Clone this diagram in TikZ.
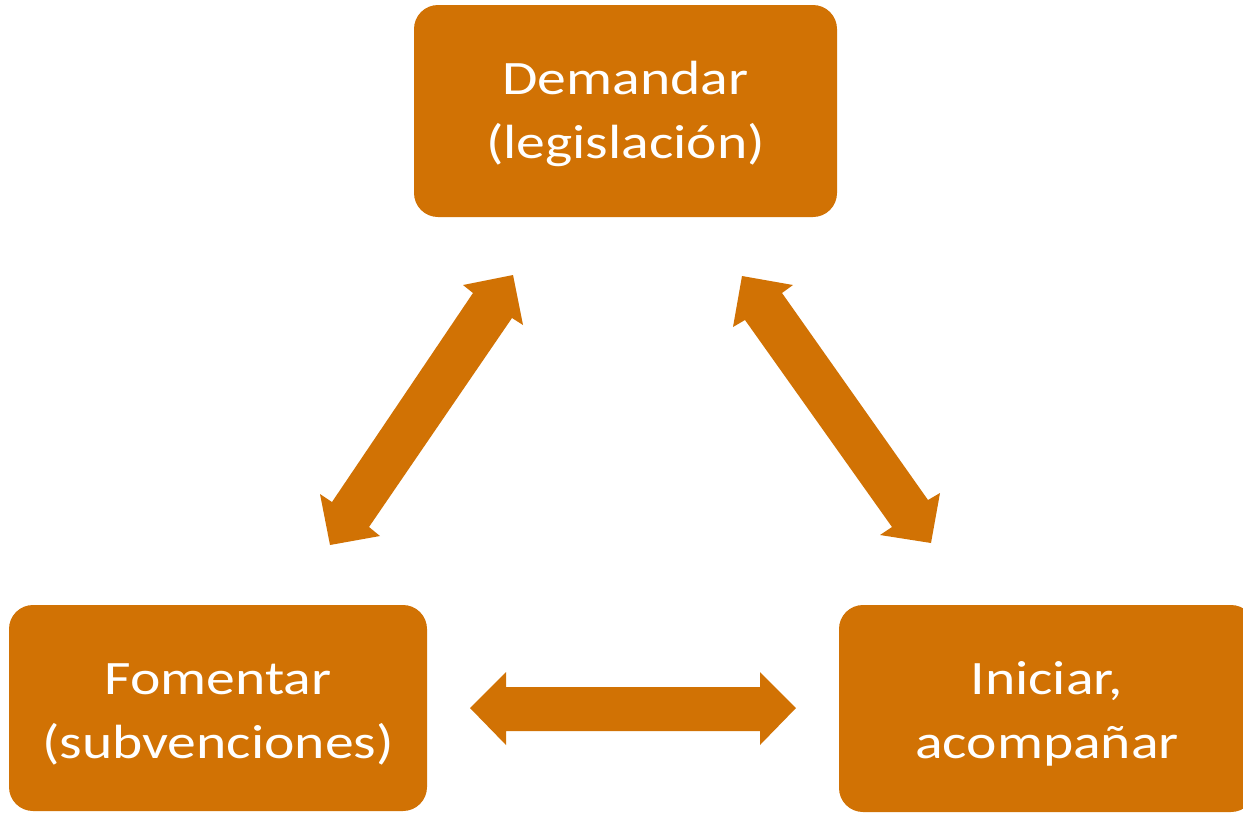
\documentclass[tikz,border=0pt]{standalone}
\usepackage{fontspec}
\setmainfont{Carlito}
\newfontfamily\boxfont{Carlito}[FakeStretch=1.2]
\definecolor{boxorange}{RGB}{209,114,4}
\tikzset{
  stepbox/.style={fill=boxorange, draw=none, rounded corners=24pt, inner sep=0pt,
    text=white, align=center, font=\boxfont\fontsize{48}{63.5}\selectfont},
  blockarrow/.style={fill=boxorange, draw=none}
}
\begin{document}
\begin{tikzpicture}[x=1pt,y=-1pt]
\useasboundingbox (0,0) rectangle (1243,815);
\node[stepbox, minimum width=423pt, minimum height=212pt, text height=94pt, text depth=0pt] (demandar) at (625.5,111) {Demandar\\(legislación)};
\node[stepbox, minimum width=418pt, minimum height=206pt, text height=100pt, text depth=0pt] (fomentar) at (218,708) {Fomentar\\(subvenciones)};
\node[stepbox, minimum width=416pt, minimum height=207pt, text height=99pt, text depth=0pt] (iniciar) at (1047,708.5) {Iniciar,\\acompañar};
% left diagonal double arrow
\fill[blockarrow] (513,275) -- (523,325) -- (512,318) -- (369,527) -- (380,536) -- (330,545)
  -- (320,494) -- (332,502) -- (473,293) -- (463,285) -- cycle;
% right diagonal double arrow
\fill[blockarrow] (742,276) -- (793,285) -- (782,293) -- (928,500) -- (940,493) -- (931,543)
  -- (880,535) -- (892,527) -- (745,320) -- (733,327) -- cycle;
% horizontal double arrow
\fill[blockarrow] (470,708) -- (506,672) -- (506,687) -- (760,687) -- (760,672) -- (796,708)
  -- (760,745) -- (760,731) -- (506,731) -- (506,745) -- cycle;
\end{tikzpicture}
\end{document}
